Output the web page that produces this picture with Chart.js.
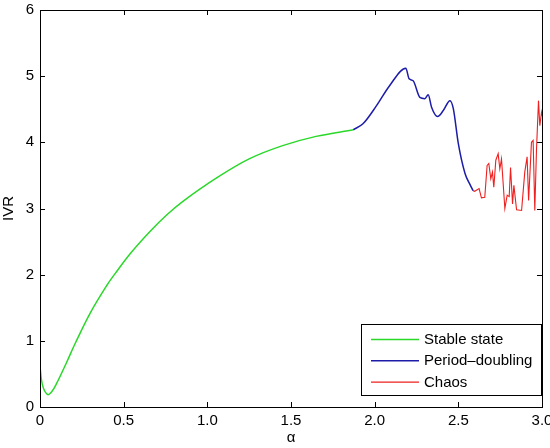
<!DOCTYPE html>
<html>
<head>
<meta charset="utf-8">
<script src="https://cdn.jsdelivr.net/npm/chart.js@4/dist/chart.umd.min.js"></script>
<style>
  html, body { margin:0; padding:0; background:#fff; }
  #wrap { width:550px; height:448px; }
</style>
</head>
<body>
<div id="wrap"><canvas id="c" width="550" height="448"></canvas></div>
<script>
// values
const stableAlpha = [0, 0.015, 0.044, 0.07, 0.10, 0.16, 0.21, 0.30, 0.40, 0.45, 0.54, 0.66, 0.76, 0.86, 1.06, 1.25, 1.45, 1.65, 1.872];
const stableIVR   = [0.61, 0.33, 0.19, 0.23, 0.36, 0.68, 0.96, 1.42, 1.84, 2.02, 2.32, 2.66, 2.91, 3.12, 3.47, 3.75, 3.95, 4.09, 4.19];

const periodAlpha = [1.872, 1.93, 2.01, 2.09, 2.186, 2.206, 2.23, 2.27, 2.30, 2.32, 2.34, 2.376, 2.41, 2.45, 2.47, 2.50, 2.54, 2.57, 2.588];
const periodIVR   = [4.19, 4.28, 4.55, 4.86, 5.12, 4.96, 4.93, 4.68, 4.66, 4.72, 4.53, 4.39, 4.48, 4.63, 4.51, 3.98, 3.53, 3.36, 3.27];

const chaosAlpha = [2.588, 2.598, 2.624, 2.638, 2.658, 2.672, 2.682, 2.694, 2.704, 2.712, 2.724, 2.738, 2.748, 2.758, 2.778, 2.792, 2.804, 2.812, 2.824, 2.832, 2.848, 2.878, 2.897, 2.911, 2.920, 2.937, 2.947, 2.957, 2.967, 2.979, 2.987, 2.997, 3.0];
const chaosIVR   = [3.27, 3.26, 3.30, 3.16, 3.17, 3.65, 3.68, 3.45, 3.55, 3.32, 3.73, 3.83, 3.60, 3.75, 3.00, 3.20, 3.18, 3.62, 3.07, 3.35, 2.98, 2.97, 3.55, 3.78, 3.12, 4.00, 4.03, 2.97, 3.88, 4.63, 4.25, 4.45, 4.40];

const xTicks = [0, 0.5, 1, 1.5, 2, 2.5, 3];
const yTicks = [0, 1, 2, 3, 4, 5, 6];

const seriesLabels = ['Stable state', 'Period\u2013doubling', 'Chaos'];
const seriesColors = ['#2ad82a', '#1c1ca8', '#ee2020'];

const pts = (xs, ys) => xs.map((x, i) => ({ x, y: ys[i] }));
const FONT = 'Liberation Sans, Arial, Helvetica, sans-serif';

// no extra room for overhanging tick labels, the frame sits where the padding says
const noOverhang = s => { s.paddingTop = 0; s.paddingBottom = 0; s.paddingLeft = 0; s.paddingRight = 0; };

const frame = {
  id: 'frame',
  afterDraw(chart){
    const { ctx, chartArea: a, scales: { x, y } } = chart;
    ctx.save();
    ctx.strokeStyle = '#000';
    ctx.lineWidth = 1;
    ctx.strokeRect(Math.round(a.left) + 0.5, Math.round(a.top) + 0.5, Math.round(a.right - a.left), Math.round(a.bottom - a.top));
    ctx.beginPath();
    const tl = 5;
    xTicks.forEach(v => {
      const px = Math.round(x.getPixelForValue(v)) + 0.5;
      ctx.moveTo(px, a.bottom); ctx.lineTo(px, a.bottom - tl);
      ctx.moveTo(px, a.top); ctx.lineTo(px, a.top + tl);
    });
    yTicks.forEach(v => {
      const py = Math.round(y.getPixelForValue(v)) + 0.5;
      ctx.moveTo(a.left, py); ctx.lineTo(a.left + tl, py);
      ctx.moveTo(a.right, py); ctx.lineTo(a.right - tl, py);
    });
    ctx.stroke();

    // legend box, lower right inside the axes
    const bx = 361.5, by = 324.5, bw = 180, bh = 71;
    ctx.fillStyle = '#fff';
    ctx.fillRect(bx, by, bw, bh);
    ctx.strokeRect(bx, by, bw, bh);
    ctx.font = '15px ' + FONT;
    ctx.textBaseline = 'middle';
    ctx.textAlign = 'left';
    chart.data.datasets.forEach((ds, i) => {
      const ry = 339.5 + i * 21.3;
      ctx.strokeStyle = ds.borderColor;
      ctx.lineWidth = ds.borderWidth;
      ctx.beginPath(); ctx.moveTo(371, ry); ctx.lineTo(419, ry); ctx.stroke();
      ctx.fillStyle = '#000';
      ctx.fillText(ds.label, 424, ry + 0.5);
    });
    ctx.restore();
  }
};

new Chart(document.getElementById('c').getContext('2d'), {
  type: 'scatter',
  data: {
    datasets: [
      { label: seriesLabels[0], data: pts(stableAlpha, stableIVR), borderColor: seriesColors[0], borderWidth: 1.5, tension: 0.35 },
      { label: seriesLabels[1], data: pts(periodAlpha, periodIVR), borderColor: seriesColors[1], borderWidth: 1.5, cubicInterpolationMode: 'monotone' },
      { label: seriesLabels[2], data: pts(chaosAlpha, chaosIVR), borderColor: seriesColors[2], borderWidth: 1.1, tension: 0 }
    ].map(d => Object.assign(d, { showLine: true, pointRadius: 0, fill: false }))
  },
  options: {
    responsive: false,
    animation: false,
    layout: { padding: { top: 10, right: 8, left: 0, bottom: 0 } },
    plugins: { legend: { display: false }, tooltip: { enabled: false } },
    scales: {
      x: {
        type: 'linear', min: 0, max: 3,
        afterBuildTicks: s => { s.ticks = xTicks.map(v => ({ value: v })); },
        afterFit: s => { s.height = 41; noOverhang(s); },
        grid: { display: false, drawTicks: false },
        border: { display: false },
        ticks: { color: '#000', padding: 5, maxRotation: 0, font: { family: FONT, size: 15 } },
        title: { display: true, text: '\u03b1', color: '#000', padding: { top: 0, bottom: 1 }, font: { family: FONT, size: 15 } }
      },
      y: {
        type: 'linear', min: 0, max: 6,
        afterBuildTicks: s => { s.ticks = yTicks.map(v => ({ value: v })); },
        afterFit: s => { s.width = 40; noOverhang(s); },
        grid: { display: false, drawTicks: false },
        border: { display: false },
        ticks: { color: '#000', padding: 6, font: { family: FONT, size: 15 } },
        title: { display: true, text: 'IVR', color: '#000', padding: { top: 0, bottom: 0 }, font: { family: FONT, size: 15 } }
      }
    }
  },
  plugins: [frame]
});
</script>
</body>
</html>
